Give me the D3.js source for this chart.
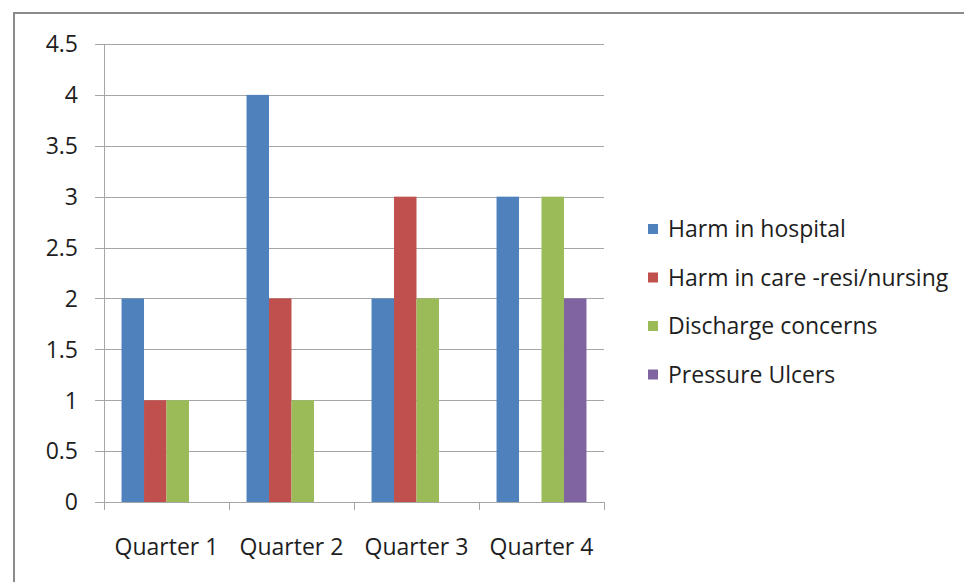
<!DOCTYPE html>
<html><head><meta charset="utf-8">
<script src="https://cdn.jsdelivr.net/npm/d3@7"></script>
<style>body{margin:0;background:#fff}svg{display:block}text{font-family:"Open Sans",Lato,sans-serif;fill:#1e1e1e}</style>
</head><body>
<script>
const categories = ["Quarter 1","Quarter 2","Quarter 3","Quarter 4"];
const seriesNames = ["Harm in hospital","Harm in care -resi/nursing","Discharge concerns","Pressure Ulcers"];
const harmHospital = [2,4,2,3];
const harmCare = [1,2,3,0];
const discharge = [1,1,2,3];
const pressureUlcers = [0,0,0,2];
const yTicks = [0,0.5,1,1.5,2,2.5,3,3.5,4,4.5];
const colors = ["#4f81bd","#c0504d","#9bbb59","#8064a2"];
const seriesValues = [harmHospital, harmCare, discharge, pressureUlcers];

(function(){
const W=964,H=582,FS=23;
const svg=d3.select("body").append("svg").attr("width",W).attr("height",H);
// frame
svg.append("line").attr("x1",14).attr("x2",W).attr("y1",13).attr("y2",13).attr("stroke","#8a8a8a").attr("stroke-width",2);
svg.append("line").attr("x1",14).attr("x2",14).attr("y1",12).attr("y2",H).attr("stroke","#8a8a8a").attr("stroke-width",2);

const pl=104,pr=604,pt=44,pb=502;
const x=d3.scaleBand().domain(categories).range([pl,pr]).paddingInner(0).paddingOuter(0);
const y=d3.scaleLinear().domain([0,4.5]).range([pb,pt]);
const inner=d3.scaleBand().domain(d3.range(seriesNames.length)).range([0,x.bandwidth()]).paddingOuter(0.78).paddingInner(0);

// gridlines
svg.append("g").selectAll("line").data(yTicks).join("line")
 .attr("x1",95).attr("x2",pr).attr("y1",d=>Math.round(y(d))+0.5).attr("y2",d=>Math.round(y(d))+0.5)
 .attr("stroke","#a6a6a6").attr("stroke-width",1);
// y axis line
svg.append("line").attr("x1",pl+0.5).attr("x2",pl+0.5).attr("y1",pt).attr("y2",pb).attr("stroke","#a6a6a6");
// x ticks
svg.append("g").selectAll("line").data(d3.range(categories.length+1)).join("line")
 .attr("x1",i=>Math.round(pl+i*x.bandwidth())+0.5).attr("x2",i=>Math.round(pl+i*x.bandwidth())+0.5)
 .attr("y1",pb).attr("y2",pb+8).attr("stroke","#a6a6a6");

// y labels
svg.append("g").selectAll("text").data(yTicks).join("text")
 .attr("x",78).attr("y",d=>y(d)).attr("dy","0.36em").attr("text-anchor","end")
 .attr("font-size",FS).text(d=>d);

// bars
seriesValues.forEach((vals,si)=>{
  svg.append("g").selectAll("rect").data(vals.map((v,i)=>({v,c:categories[i]}))).join("rect")
   .attr("x",d=>x(d.c)+inner(si)).attr("width",inner.bandwidth())
   .attr("y",d=>y(d.v)).attr("height",d=>y(0)-y(d.v)).attr("fill",colors[si]);
});

// x labels
svg.append("g").selectAll("text").data(categories).join("text")
 .attr("x",d=>x(d)+x.bandwidth()/2).attr("y",555).attr("text-anchor","middle")
 .attr("font-size",FS).text(d=>d);

// legend
const lg=svg.append("g").selectAll("g").data(seriesNames).join("g")
 .attr("transform",(d,i)=>`translate(648,${229+i*48.5})`);
lg.append("rect").attr("x",0).attr("y",-5).attr("width",10).attr("height",10).attr("fill",(d,i)=>colors[i]);
lg.append("text").attr("x",20).attr("y",0).attr("dy","0.36em").attr("font-size",FS).text(d=>d);
})();
</script>
</body></html>
